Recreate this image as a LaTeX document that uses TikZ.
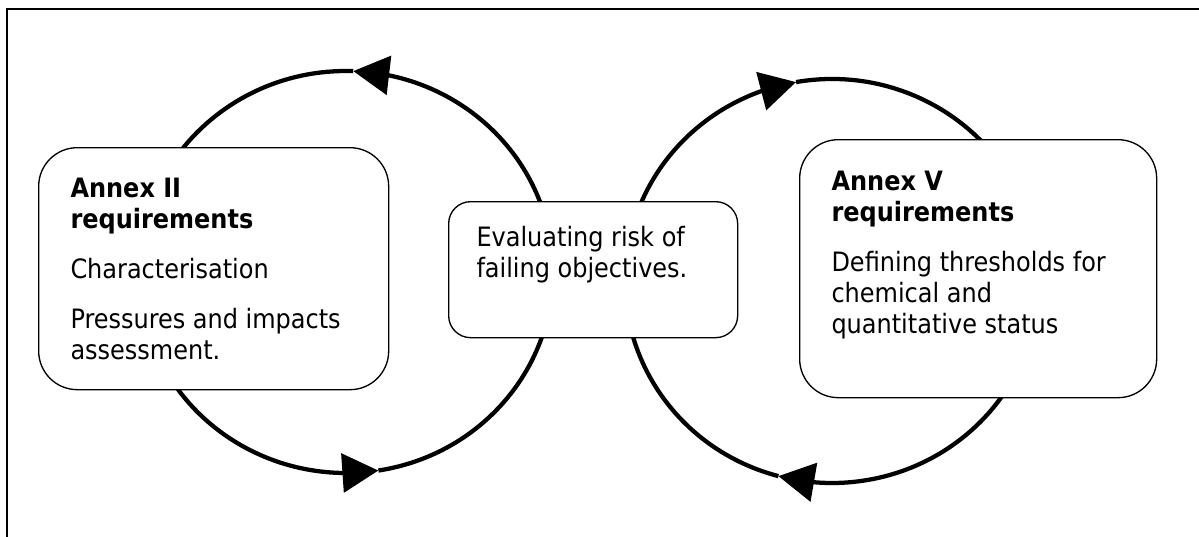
\documentclass[tikz,border=0pt]{standalone}
\usepackage{fontspec}
\setmainfont{DejaVu Sans Condensed}
\usetikzlibrary{arrows.meta,bending}

\tikzset{every picture/.style={line width=0.75pt}}
\tikzset{
  panel/.style={draw, line width=1pt, fill=white, rounded corners=29pt, anchor=north west, inner sep=0pt},
  paneltext/.style={anchor=north west, inner sep=0pt, align=left, font=\fontsize{20}{23.25}\selectfont},
  cyclearc/.style={line width=3.2pt, -{Triangle[length=27pt,width=29pt]}},
}

\begin{document}
\begin{tikzpicture}[x=0.75pt,y=0.75pt,yscale=-1,xscale=1]
\useasboundingbox (0,0) rectangle (1199,536);

%Shape: Frame
\draw[line width=1.5pt] (7,540) -- (7,9) -- (1205,9);

%Shape: Left cycle
\coordinate (lc) at (346,272);
\draw[cyclearc] (lc) ++(81:207 and 201) arc[start angle=81, end angle=-88, x radius=207, y radius=201];
\draw[cyclearc] (lc) ++(272:207 and 201) arc[start angle=272, end angle=81, x radius=207, y radius=201];
%Shape: Right cycle
\coordinate (rc) at (832,281);
\draw[cyclearc] (rc) ++(105:207 and 202) arc[start angle=105, end angle=260, x radius=207, y radius=202];
\draw[cyclearc] (rc) ++(260:207 and 202) arc[start angle=260, end angle=465, x radius=207, y radius=202];

%Rounded Rect: Annex II
\node[panel, minimum width=262.5pt, minimum height=181.5pt] (annexii) at (38,147) {};
%Rounded Rect: risk
\node[panel, rounded corners=16.5pt, minimum width=216.75pt, minimum height=102pt] (risk) at (448,201) {};
%Rounded Rect: Annex V
\node[panel, minimum width=267.75pt, minimum height=193.5pt] (annexv) at (799,139) {};

% Text Node
\node[paneltext] (annexiitext) at (70,178) {\textbf{Annex II}\\\textbf{requirements}\\[14.25pt]Characterisation\\[14.25pt]Pressures and impacts\\assessment.};
% Text Node
\node[paneltext] (risktext) at (476,226) {Evaluating risk of\\failing objectives.};
% Text Node
\node[paneltext] (annexvtext) at (831,171) {\textbf{Annex V}\\\textbf{requirements}\\[14.25pt]Defining thresholds for\\chemical and\\quantitative status};

\end{tikzpicture}
\end{document}
